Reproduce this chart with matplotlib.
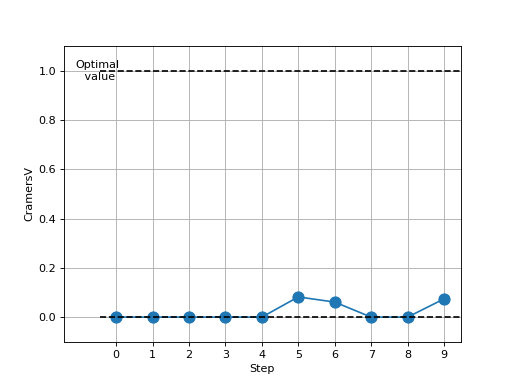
import numpy as np
import matplotlib
matplotlib.use("Agg")
import matplotlib.pyplot as plt

steps = [0, 1, 2, 3, 4, 5, 6, 7, 8, 9]
cramers_v = [0.0, 0.0, 0.0, 0.0, 0.0, 0.082, 0.061, 0.0, 0.0, 0.074]
optimal = 1.0
baseline = 0.0

fig, ax = plt.subplots(figsize=(6.4, 4.8), dpi=80)
ax.plot(steps, cramers_v, marker="o", markersize=10, color="C0")
ax.plot([-0.45, 9.5], [optimal, optimal], "k--")
ax.plot([-0.45, 9.5], [baseline, baseline], "k--")
ax.text(-0.5, optimal, "Optimal\n value", va="center", ha="center")

ax.set_xticks(steps)
ax.set_xlim(-1.43, 9.46)
ax.set_ylim(-0.1, 1.1)
ax.set_xlabel("Step")
ax.set_ylabel("CramersV")
ax.grid(True)

fig.savefig("out.png")
